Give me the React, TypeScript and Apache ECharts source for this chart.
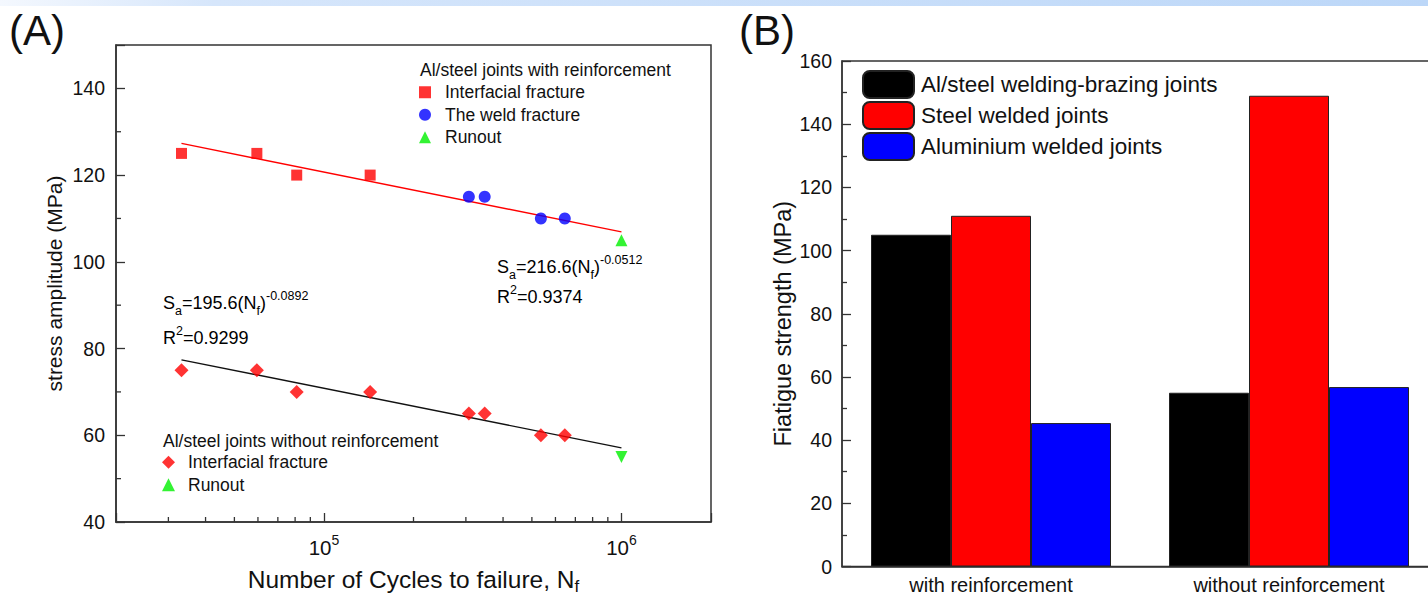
import React, { useEffect, useRef } from "react";
import * as echarts from "echarts";

// ---------- Panel A data ----------
const withInterfacialCycles = [3.32e4, 5.95e4, 8.1e4, 1.43e5];
const withInterfacialStress = [125, 125, 120, 120];
const weldCycles = [3.07e5, 3.47e5, 5.36e5, 6.45e5];
const weldStress = [115, 115, 110, 110];
const runoutWithCycles = [1e6];
const runoutWithStress = [105];
const withoutCycles = [3.32e4, 5.95e4, 8.1e4, 1.43e5, 3.07e5, 3.47e5, 5.36e5, 6.45e5];
const withoutStress = [75, 75, 70, 70, 65, 65, 60, 60];
const runoutWithoutCycles = [1e6];
const runoutWithoutStress = [55];
const fitCycles = [3.32e4, 1e6];
const fitWithStress = [127.3, 106.9];
const fitWithoutStress = [77.4, 57.1];
const minorXTicks = [3e4, 4e4, 5e4, 6e4, 7e4, 8e4, 9e4, 2e5, 3e5, 4e5, 5e5, 6e5, 7e5, 8e5, 9e5];
const minorYTicks = [50, 70, 90, 110, 130];

// ---------- Panel B data ----------
const categoriesB = ["with reinforcement", "without reinforcement"];
const alSteelJoints = [105, 55];
const steelWelded = [111, 149];
const aluminiumWelded = [45.4, 56.8];

const FONT = "'Liberation Sans', Arial, Helvetica, sans-serif";
const AXIS = "#333";

const zip = (xs: number[], ys: number[]) => xs.map((x, i) => [x, ys[i]]);

export default function App() {
  const ref = useRef<HTMLDivElement>(null);
  useEffect(() => {
    if (!ref.current) return;
    const chart = echarts.init(ref.current, null, { renderer: "svg" });
    const subRich = {
      m: { fontSize: 18, lineHeight: 28, color: "#111", fontFamily: FONT },
      sub: { fontSize: 12.5, lineHeight: 12, verticalAlign: "bottom", color: "#111", fontFamily: FONT },
      sup: { fontSize: 12.5, lineHeight: 14, verticalAlign: "top", color: "#111", fontFamily: FONT },
    };
    const option: any = {
      animation: false,
      textStyle: { fontFamily: FONT },
      graphic: [
        {
          type: "rect",
          shape: { x: 0, y: 0, width: 1428, height: 6 },
          style: {
            fill: {
              type: "linear", x: 0, y: 0, x2: 1, y2: 0,
              colorStops: [
                { offset: 0, color: "#f4f8fe" },
                { offset: 0.15, color: "#d6e6fb" },
                { offset: 1, color: "#bcd7f8" },
              ],
            },
          },
          silent: true,
        },
        { type: "text", left: 9, top: 9, style: { text: "(A)", fontSize: 42, fill: "#111", fontFamily: FONT } },
        { type: "text", left: 739, top: 9, style: { text: "(B)", fontSize: 42, fill: "#111", fontFamily: FONT } },
        { type: "text", x: 420, y: 70, style: { text: "Al/steel joints with reinforcement", fontSize: 17.5, fill: "#111", fontFamily: FONT, verticalAlign: "middle" } },
        { type: "text", x: 163, y: 441, style: { text: "Al/steel joints without reinforcement", fontSize: 17.5, fill: "#111", fontFamily: FONT, verticalAlign: "middle" } },
        { type: "text", x: 497, y: 267, style: { text: "{m|S}{sub|a}{m|=216.6(N}{sub|f}{m|)}{sup|-0.0512}", rich: subRich, verticalAlign: "middle" } },
        { type: "text", x: 497, y: 297, style: { text: "{m|R}{sup|2}{m|=0.9374}", rich: subRich, verticalAlign: "middle" } },
        { type: "text", x: 163, y: 303, style: { text: "{m|S}{sub|a}{m|=195.6(N}{sub|f}{m|)}{sup|-0.0892}", rich: subRich, verticalAlign: "middle" } },
        { type: "text", x: 163, y: 338, style: { text: "{m|R}{sup|2}{m|=0.9299}", rich: subRich, verticalAlign: "middle" } },
      ],
      legend: [
        {
          orient: "vertical", left: 419, top: 81, padding: 0, itemWidth: 12, itemHeight: 12, itemGap: 0,
          selectedMode: false,
          data: ["Interfacial fracture", "The weld fracture", "Runout"],
          textStyle: { fontSize: 17.5, color: "#111", lineHeight: 22.5, padding: [0, 0, 0, 9] },
        },
        {
          orient: "vertical", left: 162, top: 451, padding: 0, itemWidth: 13, itemHeight: 13, itemGap: 0,
          selectedMode: false,
          data: ["Interfacial fracture ", "Runout "],
          textStyle: { fontSize: 17.5, color: "#111", lineHeight: 22.5, padding: [0, 0, 0, 8] },
        },
        {
          orient: "vertical", left: 862, top: 70, padding: 0, itemWidth: 51, itemHeight: 27, itemGap: 2,
          selectedMode: false,
          data: ["Al/steel welding-brazing joints", "Steel welded joints", "Aluminium welded joints"],
          textStyle: { fontSize: 22.5, color: "#111", lineHeight: 27, padding: [0, 0, 0, 2] },
        },
      ],
      grid: [
        { left: 116, top: 45, width: 595, height: 477, show: true, borderColor: AXIS, borderWidth: 1.5, backgroundColor: "transparent", outerBoundsMode: "none", containLabel: false },
        { left: 842, top: 61, width: 596, height: 505.5, show: true, borderColor: AXIS, borderWidth: 1.3, backgroundColor: "transparent", outerBoundsMode: "none", containLabel: false },
      ],
      xAxis: [
        {
          gridIndex: 0, type: "log", logBase: 10, min: 2e4, max: 2e6,
          axisLine: { lineStyle: { color: AXIS, width: 1.5 } },
          axisTick: { inside: true, length: 9, lineStyle: { color: AXIS, width: 1.3 } },
          splitLine: { show: false },
          axisLabel: {
            margin: 11,
            formatter: (v: number) => {
              const l = Math.log10(v);
              const e = Math.round(l);
              if (Math.abs(l - e) > 1e-6) return "";
              return `{b|10}{s|${e}}`;
            },
            rich: {
              b: { fontSize: 20.5, lineHeight: 28, color: "#111", fontFamily: FONT },
              s: { fontSize: 14, lineHeight: 15, verticalAlign: "top", color: "#111", fontFamily: FONT },
            },
          },
          name: "{m|Number of Cycles to failure, N}{s|f}",
          nameLocation: "middle",
          nameGap: 41,
          nameTextStyle: {
            rich: {
              m: { fontSize: 24.5, lineHeight: 32, color: "#111", fontFamily: FONT },
              s: { fontSize: 17, lineHeight: 17, verticalAlign: "bottom", color: "#111", fontFamily: FONT },
            },
          },
        },
        {
          gridIndex: 1, type: "category", data: categoriesB,
          axisLine: { lineStyle: { color: AXIS, width: 1.5 } },
          axisTick: { show: false },
          axisLabel: { fontSize: 20, color: "#111", margin: 8 },
        },
      ],
      yAxis: [
        {
          gridIndex: 0, type: "value", min: 40, max: 150, interval: 20,
          axisLine: { show: true, lineStyle: { color: AXIS, width: 1.5 } },
          axisTick: { show: true, inside: true, length: 9, lineStyle: { color: AXIS, width: 1.3 } },
          splitLine: { show: false },
          axisLabel: { fontSize: 19.5, color: "#111", margin: 11, formatter: (v: number) => (v === 150 ? "" : String(v)) },
          name: "stress amplitude (MPa)",
          nameLocation: "middle",
          nameGap: 51,
          nameTextStyle: { fontSize: 21, color: "#111" },
        },
        {
          gridIndex: 1, type: "value", min: 0, max: 160, interval: 20,
          axisLine: { show: true, lineStyle: { color: AXIS, width: 1.5 } },
          axisTick: { show: true, inside: true, length: 9, lineStyle: { color: AXIS, width: 1.3 } },
          minorTick: { show: true, splitNumber: 2, length: 5, lineStyle: { color: AXIS, width: 1.3 } },
          splitLine: { show: false },
          axisLabel: { fontSize: 19.5, color: "#111", margin: 10 },
          name: "Fiatigue strength (MPa)",
          nameLocation: "middle",
          nameGap: 47,
          nameTextStyle: { fontSize: 23.5, color: "#111", padding: [0, 20, 0, 0] },
        },
      ],
      series: [
        {
          name: "fitWith", type: "line", xAxisIndex: 0, yAxisIndex: 0, symbol: "none",
          data: zip(fitCycles, fitWithStress), lineStyle: { color: "#ff0000", width: 1.4 }, z: 2,
        },
        {
          name: "fitWithout", type: "line", xAxisIndex: 0, yAxisIndex: 0, symbol: "none",
          data: zip(fitCycles, fitWithoutStress), lineStyle: { color: "#111", width: 1.4 }, z: 2,
        },
        {
          name: "Interfacial fracture", type: "scatter", xAxisIndex: 0, yAxisIndex: 0,
          symbol: "rect", symbolSize: 11, itemStyle: { color: "#ff0000" },
          data: zip(withInterfacialCycles, withInterfacialStress), z: 3,
        },
        {
          name: "The weld fracture", type: "scatter", xAxisIndex: 0, yAxisIndex: 0,
          symbol: "circle", symbolSize: 12, itemStyle: { color: "#0000ff" },
          data: zip(weldCycles, weldStress), z: 3,
        },
        {
          name: "Runout", type: "scatter", xAxisIndex: 0, yAxisIndex: 0,
          symbol: "triangle", symbolSize: 12, itemStyle: { color: "#00f000" },
          data: zip(runoutWithCycles, runoutWithStress), z: 3,
        },
        {
          name: "Interfacial fracture ", type: "scatter", xAxisIndex: 0, yAxisIndex: 0,
          symbol: "diamond", symbolSize: 14, itemStyle: { color: "#ff0000" },
          data: zip(withoutCycles, withoutStress), z: 3,
        },
        {
          name: "Runout ", type: "scatter", xAxisIndex: 0, yAxisIndex: 0,
          symbol: "triangle", symbolRotate: 180, symbolSize: 12, itemStyle: { color: "#00f000" },
          data: zip(runoutWithoutCycles, runoutWithoutStress), z: 3,
        },
        {
          name: "minorX", type: "custom", xAxisIndex: 0, yAxisIndex: 0, silent: true, z: 5,
          data: minorXTicks.map((v) => [v, 40]),
          encode: { x: 0, y: 1 },
          renderItem: (params: any, api: any) => {
            const p = api.coord([api.value(0), 40]);
            return { type: "line", shape: { x1: p[0], y1: p[1], x2: p[0], y2: p[1] - 5 }, style: { stroke: AXIS, lineWidth: 1.3 } };
          },
        },
        {
          name: "minorY", type: "custom", xAxisIndex: 0, yAxisIndex: 0, silent: true, z: 5,
          data: minorYTicks.map((v) => [2e4, v]),
          encode: { x: 0, y: 1 },
          renderItem: (params: any, api: any) => {
            const p = api.coord([2e4, api.value(1)]);
            return { type: "line", shape: { x1: p[0], y1: p[1], x2: p[0] + 5, y2: p[1] }, style: { stroke: AXIS, lineWidth: 1.3 } };
          },
        },
        {
          name: "Al/steel welding-brazing joints", type: "bar", xAxisIndex: 1, yAxisIndex: 1,
          data: alSteelJoints, barWidth: 80, barGap: "0%",
          itemStyle: { color: "#000000", borderColor: "#222", borderWidth: 1 },
        },
        {
          name: "Steel welded joints", type: "bar", xAxisIndex: 1, yAxisIndex: 1,
          data: steelWelded, barWidth: 80, barGap: "0%",
          itemStyle: { color: "#ff0000", borderColor: "#222", borderWidth: 1 },
        },
        {
          name: "Aluminium welded joints", type: "bar", xAxisIndex: 1, yAxisIndex: 1,
          data: aluminiumWelded, barWidth: 80, barGap: "0%",
          itemStyle: { color: "#0000ff", borderColor: "#222", borderWidth: 1 },
        },
      ],
    };
    chart.setOption(option);
    return () => chart.dispose();
  }, []);
  return (
    <div
      ref={ref}
      style={{ position: "absolute", left: 0, top: 0, width: 1428, height: 597, background: "#fff" }}
    />
  );
}
